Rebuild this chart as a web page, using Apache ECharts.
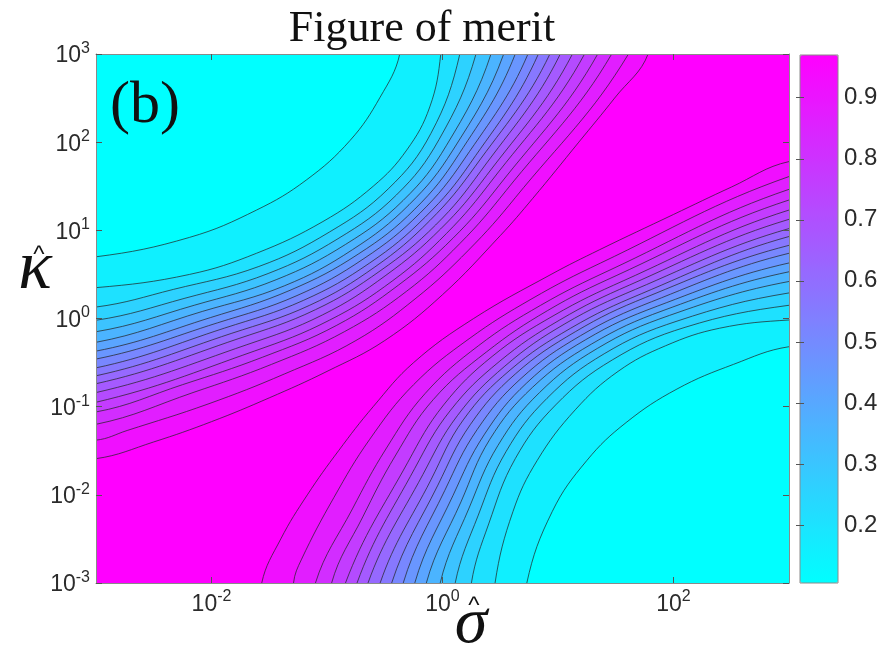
<!DOCTYPE html>
<html>
<head>
<meta charset="utf-8">
<script src="https://cdn.jsdelivr.net/npm/echarts@6/dist/echarts.min.js"></script>
</head>
<body style="margin:0">
<div id="main" style="width:881px;height:655px"></div>
<script>
// contour lines, as [log10 sigma, log10 kappa]
// upper-left family, outermost (cyan corner) first
var upperContours = [
  [[-3,0.70],[-2.19,0.92],[-1.61,1.23],[-1.18,1.57],[-0.80,2.02],[-0.54,2.51],[-0.37,3]],
  [[-3,0.35],[-2.19,0.50],[-1.61,0.74],[-1.035,1.10],[-0.60,1.50],[-0.31,1.91],[-0.11,2.40],[-0.015,3]],
  [[-3,0.13],[-2.33,0.33],[-1.59,0.59],[-0.98,0.98],[-0.47,1.47],[-0.10,2.10],[0.15,3]],
  [[-3,-0.02],[-2.23,0.23],[-1.51,0.51],[-0.905,0.905],[-0.40,1.40],[-0.03,2.03],[0.29,3]],
  [[-3,-0.15],[-2.15,0.15],[-1.44,0.44],[-0.84,0.84],[-0.34,1.34],[0.035,1.965],[0.42,3]],
  [[-3,-0.27],[-2.08,0.08],[-1.37,0.37],[-0.78,0.78],[-0.29,1.29],[0.09,1.91],[0.53,3]],
  [[-3,-0.37],[-2.01,0.01],[-1.32,0.32],[-0.73,0.73],[-0.24,1.24],[0.14,1.86],[0.63,3]],
  [[-3,-0.46],[-1.95,-0.05],[-1.26,0.26],[-0.68,0.68],[-0.195,1.195],[0.19,1.81],[0.74,3]],
  [[-3,-0.56],[-1.89,-0.11],[-1.205,0.205],[-0.63,0.63],[-0.15,1.15],[0.24,1.76],[0.83,3]],
  [[-3,-0.65],[-1.83,-0.17],[-1.15,0.15],[-0.585,0.585],[-0.11,1.11],[0.28,1.72],[0.93,3]],
  [[-3,-0.74],[-1.77,-0.23],[-1.10,0.10],[-0.54,0.54],[-0.06,1.06],[0.33,1.67],[1.02,3]],
  [[-3,-0.84],[-1.70,-0.30],[-1.04,0.04],[-0.49,0.49],[-0.016,1.016],[0.38,1.62],[1.125,3]],
  [[-3,-0.95],[-1.63,-0.37],[-0.98,-0.02],[-0.43,0.43],[0.035,0.965],[0.43,1.57],[1.23,3]],
  [[-3,-1.06],[-2.25,-0.75],[-1.56,-0.44],[-0.92,-0.08],[-0.38,0.38],[0.09,0.91],[0.49,1.51],[1.344,3]],
  [[-3,-1.20],[-2.16,-0.84],[-1.48,-0.52],[-0.85,-0.15],[-0.31,0.31],[0.15,0.85],[0.55,1.45],[1.465,3]],
  [[-3,-1.38],[-2.73,-1.27],[-2.03,-0.97],[-1.37,-0.63],[-0.75,-0.25],[-0.23,0.23],[0.225,0.775],[0.63,1.37],[1.61,3]],
  [[-3,-1.59],[-2.5,-1.40],[-2,-1.17],[-1.5,-0.90],[-1,-0.60],[-0.5,-0.25],[0,0.27],[0.5,0.94],[0.78,1.36],[1.18,2],[1.49,2.5],[1.78,3]]
];
// lower-right family, outermost first
var lowerContours = [
  [[0.73,-3],[0.95,-2.19],[1.25,-1.61],[1.59,-1.18],[2.03,-0.80],[2.52,-0.52],[3,-0.32]],
  [[0.455,-3],[0.61,-2.19],[0.82,-1.61],[1.15,-1.035],[1.52,-0.60],[1.93,-0.31],[2.40,-0.11],[3,-0.017]],
  [[0.25,-3],[0.40,-2.33],[0.63,-1.59],[0.98,-0.98],[1.47,-0.47],[2.10,-0.10],[3,0.15]],
  [[0.11,-3],[0.31,-2.23],[0.55,-1.51],[0.905,-0.905],[1.40,-0.40],[2.03,-0.03],[3,0.29]],
  [[-0.02,-3],[0.23,-2.15],[0.48,-1.44],[0.84,-0.84],[1.34,-0.34],[1.965,0.035],[3,0.42]],
  [[-0.14,-3],[0.16,-2.08],[0.41,-1.37],[0.78,-0.78],[1.29,-0.29],[1.91,0.09],[3,0.53]],
  [[-0.24,-3],[0.09,-2.01],[0.36,-1.32],[0.73,-0.73],[1.24,-0.24],[1.86,0.14],[3,0.63]],
  [[-0.34,-3],[0.02,-1.95],[0.30,-1.26],[0.68,-0.68],[1.195,-0.195],[1.81,0.19],[3,0.74]],
  [[-0.44,-3],[-0.04,-1.89],[0.24,-1.205],[0.63,-0.63],[1.15,-0.15],[1.76,0.24],[3,0.83]],
  [[-0.54,-3],[-0.10,-1.83],[0.18,-1.15],[0.585,-0.585],[1.11,-0.11],[1.72,0.28],[3,0.93]],
  [[-0.645,-3],[-0.17,-1.77],[0.13,-1.10],[0.54,-0.54],[1.06,-0.06],[1.67,0.33],[3,1.02]],
  [[-0.74,-3],[-0.24,-1.70],[0.07,-1.04],[0.49,-0.49],[1.016,-0.016],[1.62,0.38],[3,1.125]],
  [[-0.84,-3],[-0.30,-1.63],[0.01,-0.98],[0.43,-0.43],[0.965,0.035],[1.57,0.43],[3,1.23]],
  [[-0.96,-3],[-0.69,-2.25],[-0.41,-1.56],[-0.08,-0.92],[0.38,-0.38],[0.91,0.09],[1.51,0.49],[3,1.344]],
  [[-1.10,-3],[-0.78,-2.16],[-0.49,-1.48],[-0.15,-0.85],[0.31,-0.31],[0.85,0.15],[1.45,0.55],[3,1.465]],
  [[-1.29,-3],[-1.22,-2.73],[-0.94,-2.03],[-0.63,-1.37],[-0.25,-0.75],[0.23,-0.23],[0.775,0.225],[1.37,0.63],[3,1.61]],
  [[-1.565,-3],[-1.40,-2.5],[-1.17,-2],[-0.90,-1.5],[-0.60,-1],[-0.25,-0.5],[0.27,0],[0.94,0.5],[1.36,0.78],[2,1.18],[2.5,1.49],[3,1.78]]
];
// fill value of each band, from the cyan corners (0) to the magenta ridge (17)
var bandValues = [0.105,0.156,0.207,0.258,0.309,0.359,0.410,0.461,0.512,0.563,0.614,0.665,0.716,0.767,0.817,0.868,0.919,0.970];
var axisExpRange = [-3, 3];
var xTickValues = [0.01, 1, 100];
var yTickValues = [0.001, 0.01, 0.1, 1, 10, 100, 1000];
var barTicks = [0.2, 0.3, 0.4, 0.5, 0.6, 0.7, 0.8, 0.9];

var chart = echarts.init(document.getElementById('main'));

var lo = axisExpRange[0], hi = axisExpRange[1], pad = 0.5;
// items: [x, y, family, curve index, band value]; family 0 = whole plane
var fillData = [[1, 1, 0, 0, bandValues[17]]];
for (var i = upperContours.length - 1; i >= 0; i--) fillData.push([1, 1, 1, i, bandValues[i]]);
for (var i = lowerContours.length - 1; i >= 0; i--) fillData.push([1, 1, 2, i, bandValues[i]]);

function toPx(api, p) {
  return api.coord([Math.pow(10, p[0]), Math.pow(10, p[1])]);
}

function renderBand(params, api) {
  var fam = api.value(2), idx = api.value(3);
  var pts;
  if (fam === 0) {
    pts = [[lo, lo], [hi, lo], [hi, hi], [lo, hi]];
  } else if (fam === 1) {
    var c = upperContours[idx];
    pts = c.concat([[c[c.length - 1][0], hi + pad], [lo - pad, hi + pad], [lo - pad, c[0][1]]]);
  } else {
    var c = lowerContours[idx];
    pts = c.concat([[hi + pad, c[c.length - 1][1]], [hi + pad, lo - pad], [c[0][0], lo - pad]]);
  }
  return {
    type: 'polygon',
    shape: { points: pts.map(function (p) { return toPx(api, p); }), smooth: fam === 0 ? 0 : 0.4 },
    style: {
      fill: api.visual('color'),
      stroke: fam === 0 ? null : 'rgba(35,35,35,0.8)',
      lineWidth: 0.9
    }
  };
}

function powLabel(v) {
  var e = Math.round(Math.log10(v));
  return '{b|10}{s|' + e + '}';
}
var powRich = {
  b: { fontSize: 23, fontFamily: 'Liberation Sans', color: '#2b2b2b', verticalAlign: 'bottom', lineHeight: 27 },
  s: { fontSize: 16, fontFamily: 'Liberation Sans', color: '#2b2b2b', verticalAlign: 'top', lineHeight: 16 }
};
var frame = { show: true, lineStyle: { color: '#8a8a8a', width: 1 } };

var option = {
  animation: false,
  backgroundColor: '#fff',
  grid: [
    { left: 96, top: 54, width: 693, height: 529 },
    { left: 800, top: 55, width: 38, height: 528, show: true, borderColor: '#8a8a8a', borderWidth: 1, backgroundColor: 'transparent', z: 10 }
  ],
  xAxis: [
    { type: 'log', logBase: 10, min: 0.001, max: 1000, position: 'bottom', z: 5, axisLine: frame,
      axisTick: { inside: true, length: 6, customValues: xTickValues, lineStyle: { color: '#555' } },
      axisLabel: { customValues: xTickValues, formatter: powLabel, rich: powRich, margin: 6 },
      splitLine: { show: false } },
    { type: 'log', logBase: 10, min: 0.001, max: 1000, position: 'top', z: 5, axisLine: frame,
      axisTick: { inside: true, length: 6, customValues: xTickValues, lineStyle: { color: '#555' } },
      axisLabel: { show: false }, splitLine: { show: false } },
    { gridIndex: 1, type: 'value', show: false }
  ],
  yAxis: [
    { type: 'log', logBase: 10, min: 0.001, max: 1000, position: 'left', z: 5, axisLine: frame,
      axisTick: { inside: true, length: 6, customValues: yTickValues, lineStyle: { color: '#555' } },
      axisLabel: { customValues: yTickValues, formatter: powLabel, rich: powRich, margin: 6 },
      splitLine: { show: false } },
    { type: 'log', logBase: 10, min: 0.001, max: 1000, position: 'right', z: 5, axisLine: frame,
      axisTick: { inside: true, length: 6, customValues: yTickValues, lineStyle: { color: '#555' } },
      axisLabel: { show: false }, splitLine: { show: false } },
    { gridIndex: 1, type: 'value', min: 0.105, max: 0.97, position: 'right', z: 11,
      axisLine: { show: false },
      axisTick: { inside: true, length: 4, customValues: barTicks, lineStyle: { color: '#555' } },
      axisLabel: { customValues: barTicks, formatter: function (v) { return v.toFixed(1); },
        fontSize: 24, fontFamily: 'Liberation Sans', color: '#2b2b2b', margin: 6 },
      splitLine: { show: false } },
    { gridIndex: 1, type: 'value', min: 0.105, max: 0.97, position: 'left', z: 11,
      axisLine: { show: false },
      axisTick: { inside: true, length: 4, customValues: barTicks, lineStyle: { color: '#555' } },
      axisLabel: { show: false }, splitLine: { show: false } }
  ],
  visualMap: {
    type: 'continuous', seriesIndex: 0, dimension: 4,
    min: 0.105, max: 0.97, calculable: false, hoverLink: false,
    inRange: { color: ['#00ffff', '#ff00ff'] },
    orient: 'vertical', left: 800, top: 55, itemWidth: 38, itemHeight: 528, padding: 0
  },
  graphic: [
    { type: 'text', x: 422, y: 7, style: { text: 'Figure of merit', font: '44px "Liberation Serif"', fill: '#111', align: 'center', verticalAlign: 'top' } },
    { type: 'text', x: 110, y: 76, z: 50, style: { text: '(b)', font: '60px "Liberation Serif"', fill: '#111', verticalAlign: 'top' } },
    { type: 'text', x: 35, y: 270, style: { text: 'κ', font: 'italic 70px "Liberation Serif"', fill: '#111', align: 'center', verticalAlign: 'middle' } },
    { type: 'text', x: 39, y: 255, style: { text: '^', font: '24px "Liberation Sans"', fill: '#111', align: 'center', verticalAlign: 'middle' } },
    { type: 'text', x: 471, y: 625, style: { text: 'σ', font: 'italic 66px "Liberation Serif"', fill: '#111', align: 'center', verticalAlign: 'middle' } },
    { type: 'text', x: 474, y: 606, style: { text: '^', font: '24px "Liberation Sans"', fill: '#111', align: 'center', verticalAlign: 'middle' } }
  ],
  series: [
    { type: 'custom', name: 'merit', xAxisIndex: 0, yAxisIndex: 0, clip: true, silent: true,
      encode: { x: 0, y: 1 }, renderItem: renderBand, data: fillData }
  ]
};
chart.setOption(option);
</script>
</body>
</html>
